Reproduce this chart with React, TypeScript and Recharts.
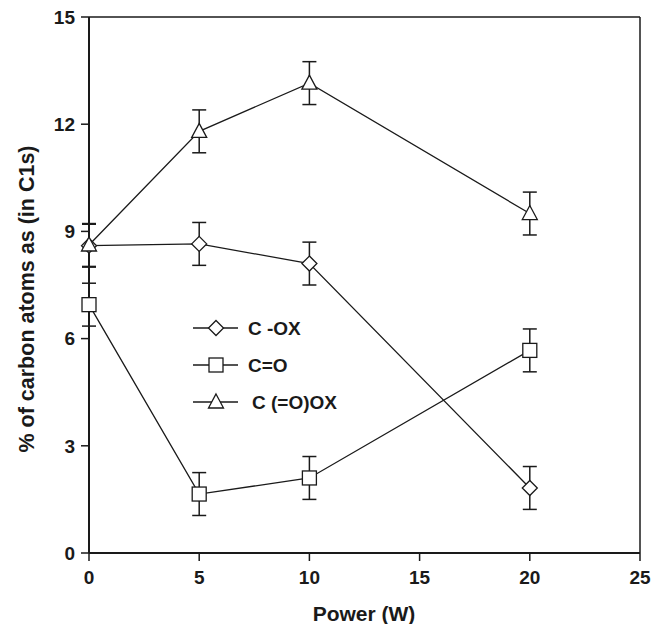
import React from 'react'
import {
  ComposedChart, Line, XAxis, YAxis, ErrorBar, ReferenceLine,
} from 'recharts'

const powers = [0, 5, 10, 20]
const cox = [8.6, 8.65, 8.1, 1.82]
const coxErr = [0.6, 0.6, 0.6, 0.6]
const co = [6.95, 1.65, 2.1, 5.67]
const coErr = [0.6, 0.6, 0.6, 0.6]
const coox = [8.62, 11.8, 13.15, 9.5]
const cooxErr = [0.6, 0.6, 0.6, 0.6]

const xTicks = [0, 5, 10, 15, 20, 25]
const yTicks = [0, 3, 6, 9, 12, 15]

const seriesNames = ['C -OX', 'C=O', 'C (=O)OX']

const INK = '#1a1a1a'
const FONT = '"Liberation Sans", Arial, Helvetica, sans-serif'

const mk = (vals: number[], errs: number[]) =>
  powers.map((p, i) => ({ x: p, y: vals[i], err: errs[i] }))

const coxData = mk(cox, coxErr)
const coData = mk(co, coErr)
const cooxData = mk(coox, cooxErr)

function Diamond({ cx, cy }: any) {
  const r = 7.5
  return (
    <path d={`M${cx},${cy - r}L${cx + r},${cy}L${cx},${cy + r}L${cx - r},${cy}Z`}
      fill="#fff" stroke={INK} strokeWidth={1.3} />
  )
}
function Square({ cx, cy }: any) {
  const r = 7
  return <rect x={cx - r} y={cy - r} width={2 * r} height={2 * r} fill="#fff" stroke={INK} strokeWidth={1.3} />
}
function Triangle({ cx, cy }: any) {
  const w = 7.5
  return (
    <path d={`M${cx},${cy - 8}L${cx + w},${cy + 6}L${cx - w},${cy + 6}Z`}
      fill="#fff" stroke={INK} strokeWidth={1.3} />
  )
}

const markers = [Diamond, Square, Triangle]

// legend drawn straight into the chart svg, top-left at (190, 315)
function LegendBox() {
  return (
    <g transform="translate(190, 315)">
      {seriesNames.map((name, i) => {
        const y = 13 + i * 37
        const M = markers[i]
        return (
          <g key={name}>
            <line x1={3} x2={48} y1={y} y2={y} stroke={INK} strokeWidth={1.3} />
            <M cx={26} cy={y} />
            <text x={i === 2 ? 62 : 58} y={y + 7} fontFamily={FONT} fontWeight="bold" fontSize={19} fill={INK}>
              {name}
            </text>
          </g>
        )
      })}
    </g>
  )
}

const tickStyle = { fill: INK, fontSize: 19, fontWeight: 'bold', fontFamily: FONT }

export default function App() {
  return (
    <div style={{ position: 'absolute', left: 0, top: 0, width: 654, height: 624, background: '#fff' }}>
      <ComposedChart width={654} height={624} margin={{ top: 17, right: 14, bottom: 31, left: 29 }}>
        <XAxis
          type="number"
          dataKey="x"
          domain={[0, 25]}
          ticks={xTicks}
          tick={tickStyle}
          tickSize={8}
          tickMargin={10}
          height={40}
          axisLine={{ stroke: INK, strokeWidth: 2 }}
          tickLine={{ stroke: INK, strokeWidth: 1.5 }}
        />
        <YAxis
          type="number"
          domain={[0, 15]}
          ticks={yTicks}
          tick={tickStyle}
          tickSize={8}
          tickMargin={6}
          width={60}
          axisLine={{ stroke: INK, strokeWidth: 2 }}
          tickLine={{ stroke: INK, strokeWidth: 1.5 }}
        />
        <ReferenceLine y={15} stroke={INK} strokeWidth={1.5} />
        <ReferenceLine x={25} stroke={INK} strokeWidth={1.5} />
        <Line data={coxData} dataKey="y" stroke={INK} strokeWidth={1.3} dot={<Diamond />} isAnimationActive={false} legendType="none">
          <ErrorBar dataKey="err" width={7} stroke={INK} strokeWidth={1.5} direction="y" />
        </Line>
        <Line data={coData} dataKey="y" stroke={INK} strokeWidth={1.3} dot={<Square />} isAnimationActive={false} legendType="none">
          <ErrorBar dataKey="err" width={7} stroke={INK} strokeWidth={1.5} direction="y" />
        </Line>
        <Line data={cooxData} dataKey="y" stroke={INK} strokeWidth={1.3} dot={<Triangle />} isAnimationActive={false} legendType="none">
          <ErrorBar dataKey="err" width={7} stroke={INK} strokeWidth={1.5} direction="y" />
        </Line>
        <LegendBox />
        <text x={364} y={621} textAnchor="middle" fontFamily={FONT} fontWeight="bold" fontSize={21} fill={INK}>
          Power (W)
        </text>
        <text x={34} y={299} transform="rotate(-90 34 299)" textAnchor="middle" fontFamily={FONT} fontWeight="bold" fontSize={21.5} fill={INK}>
          % of carbon atoms as (in C1s)
        </text>
      </ComposedChart>
    </div>
  )
}
